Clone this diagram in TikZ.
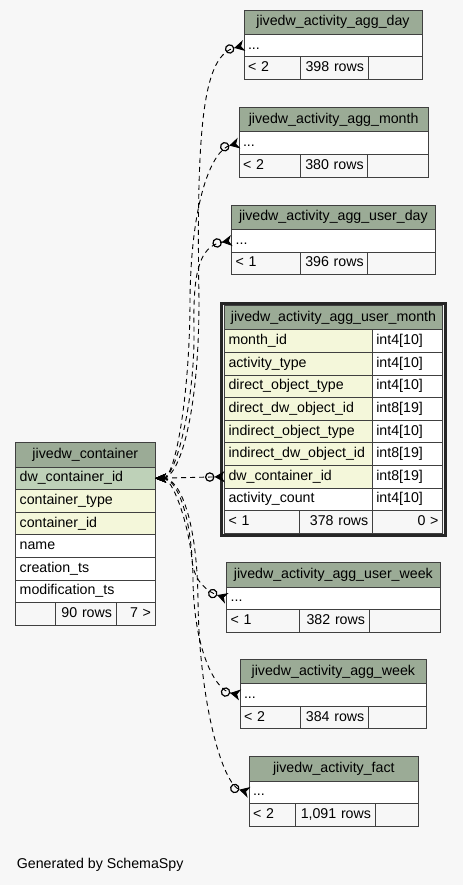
\documentclass[tikz,border=0pt]{standalone}
\usepackage{fontspec}
\setmainfont{Liberation Sans}
\usetikzlibrary{arrows.meta}

\definecolor{headgreen}{HTML}{9BAB96}
\definecolor{keygreen}{HTML}{BED1B8}
\definecolor{idxyellow}{HTML}{F4F7DA}
\definecolor{pagegrey}{HTML}{F7F7F7}

\begin{document}
\begin{tikzpicture}[x=1pt, y=-1pt, font=\fontsize{14.2}{17}\selectfont,
		cell/.style={draw=black!75, line width=0.8pt, anchor=north west, outer sep=0pt,
			inner xsep=4pt, inner ysep=0pt, text height=10.2pt, text depth=3pt,
			text width=#1pt-8pt, minimum height=22.6pt, align=left},
		head/.style={cell=#1, fill=headgreen, minimum height=24.3pt, align=center},
		foot/.style={cell=#1, fill=pagegrey},
		num/.style={foot=#1, align=right},
		rel/.style={dash pattern=on 5pt off 4pt, line width=0.9pt,
			{Stealth[length=11pt,width=9pt,inset=2.5pt]}-{Circle[open,length=9.5pt,width=9.5pt,line width=1.2pt] Stealth[reversed,length=10pt,width=11pt,inset=3pt]}}]
			\fill[pagegrey] (0,0) rectangle (463,885);
			\useasboundingbox (0,0) rectangle (463,885);
			\begin{scope}[shift={(244,10)}] % agg_day
				\node[head=178] (day-h) at (0,0) {jivedw\_activity\_agg\_day};
				\node[cell=178, fill=white] (day-r) at (0,24.3) {...};
				\node[foot=56] (day-f1) at (0,46.9) {< 2};
				\node[num=68] (day-f2) at (56,46.9) {398 rows};
				\node[num=54] (day-f3) at (124,46.9) {};
			\end{scope}
			\begin{scope}[shift={(239,107.5)}] % agg_month
				\node[head=189.3] (month-h) at (0,0) {jivedw\_activity\_agg\_month};
				\node[cell=189.3, fill=white] (month-r) at (0,24.3) {...};
				\node[foot=61] (month-f1) at (0,46.9) {< 2};
				\node[num=67.7] (month-f2) at (61,46.9) {380 rows};
				\node[num=60.6] (month-f3) at (128.7,46.9) {};
			\end{scope}
			\begin{scope}[shift={(231.7,205)}] % agg_user_day
				\node[head=203.3] (uday-h) at (0,0) {jivedw\_activity\_agg\_user\_day};
				\node[cell=203.3, fill=white] (uday-r) at (0,24.3) {...};
				\node[foot=68.3] (uday-f1) at (0,46.9) {< 1};
				\node[num=67.7] (uday-f2) at (68.3,46.9) {396 rows};
				\node[num=67.3] (uday-f3) at (136,46.9) {};
			\end{scope}
			% the selected table
			\draw[line width=3pt, black!85] (221.5,303) rectangle (445.5,535.5);
			\begin{scope}[shift={(224.5,305.5)}] % agg_user_month
				\node[head=218] (um-h) at (0,0) {jivedw\_activity\_agg\_user\_month};
				\node[cell=147.8, fill=idxyellow] (um-mon) at (0,24.3) {month\_id};
				\node[cell=70.2, fill=white] (um-mon-t) at (147.8,24.3) {int4[10]};
				\node[cell=147.8, fill=idxyellow] (um-act) at (0,46.9) {activity\_type};
				\node[cell=70.2, fill=white] (um-act-t) at (147.8,46.9) {int4[10]};
				\node[cell=147.8, fill=idxyellow] (um-dot) at (0,69.5) {direct\_object\_type};
				\node[cell=70.2, fill=white] (um-dot-t) at (147.8,69.5) {int4[10]};
				\node[cell=147.8, fill=idxyellow] (um-ddo) at (0,92.1) {direct\_dw\_object\_id};
				\node[cell=70.2, fill=white] (um-ddo-t) at (147.8,92.1) {int8[19]};
				\node[cell=147.8, fill=idxyellow] (um-iot) at (0,114.7) {indirect\_object\_type};
				\node[cell=70.2, fill=white] (um-iot-t) at (147.8,114.7) {int4[10]};
				\node[cell=147.8, fill=idxyellow] (um-ido) at (0,137.3) {indirect\_dw\_object\_id};
				\node[cell=70.2, fill=white] (um-ido-t) at (147.8,137.3) {int8[19]};
				\node[cell=147.8, fill=idxyellow] (um-dwc) at (0,159.9) {dw\_container\_id};
				\node[cell=70.2, fill=white] (um-dwc-t) at (147.8,159.9) {int8[19]};
				\node[cell=147.8, fill=white] (um-cnt) at (0,182.5) {activity\_count};
				\node[cell=70.2, fill=white] (um-cnt-t) at (147.8,182.5) {int4[10]};
				\node[foot=74.5] (um-f1) at (0,205.1) {< 1};
				\node[num=73.3] (um-f2) at (74.5,205.1) {378 rows};
				\node[num=70.2] (um-f3) at (147.8,205.1) {0 >};
			\end{scope}
			\begin{scope}[shift={(15.7,442.7)}] % container
				\node[head=139.3] (cont-h) at (0,0) {jivedw\_container};
				\node[cell=139.3, fill=keygreen] (cont-dwc) at (0,24.3) {dw\_container\_id};
				\node[cell=139.3, fill=idxyellow] (cont-type) at (0,46.9) {container\_type};
				\node[cell=139.3, fill=idxyellow] (cont-id) at (0,69.5) {container\_id};
				\node[cell=139.3, fill=white] (cont-name) at (0,92.1) {name};
				\node[cell=139.3, fill=white] (cont-cts) at (0,114.7) {creation\_ts};
				\node[cell=139.3, fill=white] (cont-mts) at (0,137.3) {modification\_ts};
				\node[foot=40] (cont-f1) at (0,159.9) {};
				\node[num=60.3] (cont-f2) at (40,159.9) {90 rows};
				\node[num=39] (cont-f3) at (100.3,159.9) {7 >};
			\end{scope}
			\begin{scope}[shift={(226.7,562.7)}] % agg_user_week
				\node[head=213.3] (uweek-h) at (0,0) {jivedw\_activity\_agg\_user\_week};
				\node[cell=213.3, fill=white] (uweek-r) at (0,24.3) {...};
				\node[foot=72.3] (uweek-f1) at (0,46.9) {< 1};
				\node[num=70] (uweek-f2) at (72.3,46.9) {382 rows};
				\node[num=71] (uweek-f3) at (142.3,46.9) {};
			\end{scope}
			\begin{scope}[shift={(240,659.3)}] % agg_week
				\node[head=186.7] (week-h) at (0,0) {jivedw\_activity\_agg\_week};
				\node[cell=186.7, fill=white] (week-r) at (0,24.3) {...};
				\node[foot=60] (week-f1) at (0,46.9) {< 2};
				\node[num=68.3] (week-f2) at (60,46.9) {384 rows};
				\node[num=58.4] (week-f3) at (128.3,46.9) {};
			\end{scope}
			\begin{scope}[shift={(249,756.7)}] % fact
				\node[head=169.7] (fact-h) at (0,0) {jivedw\_activity\_fact};
				\node[cell=169.7, fill=white] (fact-r) at (0,24.3) {...};
				\node[foot=46] (fact-f1) at (0,46.9) {< 2};
				\node[num=80] (fact-f2) at (46,46.9) {1,091 rows};
				\node[num=43.7] (fact-f3) at (126,46.9) {};
			\end{scope}
			% relations
			\draw[rel] (cont-dwc.east) -- (um-dwc.west);
			\draw[rel] (cont-dwc.east) .. controls (178,478) and (199,420) .. (199,300) .. controls (196,120) and (204,55) .. (day-r.west);
			\draw[rel] (cont-dwc.east) .. controls (176,478) and (190,390) .. (190,300) .. controls (191,200) and (212,150) .. (month-r.west);
			\draw[rel] (cont-dwc.east) .. controls (176,478) and (195,400) .. (194,330) .. controls (193,275) and (198,246) .. (uday-r.west);
			\draw[rel] (cont-dwc.east) .. controls (172,478) and (188,520) .. (192,560) .. controls (194,582) and (208,592) .. (uweek-r.west);
			\draw[rel] (cont-dwc.east) .. controls (175,478) and (192,510) .. (193,580) .. controls (194,650) and (215,690) .. (week-r.west);
			\draw[rel] (cont-dwc.east) .. controls (180,478) and (197,520) .. (198,600) .. controls (199,700) and (222,785) .. (fact-r.west);
			\node[anchor=base west, inner sep=0pt] (gen) at (16.7,868.3) {Generated by SchemaSpy};
		\end{tikzpicture}
\end{document}
